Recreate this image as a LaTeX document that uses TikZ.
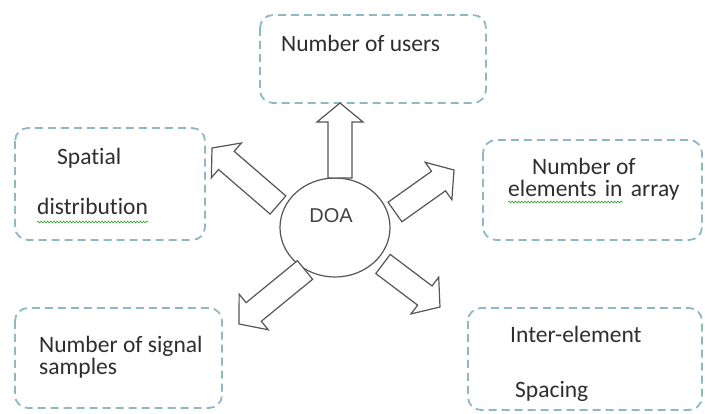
\documentclass[tikz,border=0pt]{standalone}
\usepackage{fontspec}
\setmainfont[Ligatures=NoCommon]{Carlito}
\newfontfamily\doafont{Liberation Sans}
\usetikzlibrary{calc,shapes.geometric,decorations.pathmorphing}

\definecolor{boxline}{HTML}{8DB8C4}
\definecolor{txt}{HTML}{2E2E2E}
\definecolor{arrline}{HTML}{555555}
\definecolor{spell}{HTML}{3FA63F}

\tikzset{
  factorbox/.style={draw=boxline, line width=1.8pt, dash pattern=on 8pt off 5pt,
    rounded corners=13pt},
  label/.style={anchor=base west, inner sep=0pt, text=txt,
    font=\fontsize{23.5}{26}\selectfont},
  fatarrow/.style={draw=arrline, line width=1.2pt, fill=white, line join=miter},
  spellmark/.style={draw=spell, line width=0.7pt,
    decorate, decoration={snake, amplitude=0.9pt, segment length=3.2pt}},
}

% hollow block arrow from #1 (tail centre) to #2 (tip)
\newcommand\blockarrow[2]{%
  \path ($(#2)!19pt!(#1)$) coordinate (hb);
  \draw[fatarrow] ($(#1)!12pt!90:(#2)$) -- ($(hb)!12pt!90:(#2)$)
    -- ($(hb)!23pt!90:(#2)$) -- (#2) -- ($(hb)!23pt!-90:(#2)$)
    -- ($(hb)!12pt!-90:(#2)$) -- ($(#1)!12pt!-90:(#2)$) -- cycle;
}

\begin{document}
\begin{tikzpicture}[x=1pt, y=-1pt]
  \useasboundingbox (0,0) rectangle (705,414);

  % factor boxes
  \draw[factorbox] (260,15) rectangle (486,103);
  \draw[factorbox] (15,128) rectangle (205,240);
  \draw[factorbox] (483,140) rectangle (702,240);
  \draw[factorbox] (15,308) rectangle (222,408);
  \draw[factorbox] (468,308) rectangle (702,410);

  % labels
  \node[label] (users) at (281,52) {Number of users};
  \node[label] (spat1) at (57,165) {Spatial};
  \node[label] (spat2) at (37,215) {distribution};
  \node[label] (elem1) at (532,175) {Number of};
  \node[label] (elem2) at (508,197) {elements\hspace{0.35em}in\hspace{0.35em}array};
  \node[label] (samp1) at (39,353) {Number of signal};
  \node[label] (samp2) at (39,375) {samples};
  \node[label] (inter1) at (510,343) {Inter-element};
  \node[label] (inter2) at (515,398) {Spacing};

  % proofing underlines
  \coordinate (s1a) at (37,222);  \coordinate (s1b) at (148,222);
  \coordinate (s2a) at (508,202); \coordinate (s2b) at (623,202);
  \draw[spellmark] (s1a) -- (s1b);
  \draw[spellmark] (s2a) -- (s2b);

  % centre
  \node[draw=arrline, line width=1.2pt, ellipse, minimum width=110pt,
    minimum height=99pt, inner sep=0pt] (doa) at (335,227.5) {};
  \node[inner sep=0pt, text=txt!90!white, font=\doafont\fontsize{20}{22}\selectfont]
    (doatext) at (331,216) {DOA};

  % arrow ends
  \coordinate (t1) at (340,178);  \coordinate (p1) at (340,103);
  \coordinate (t2) at (278,205);  \coordinate (p2) at (212,148);
  \coordinate (t3) at (395,212);  \coordinate (p3) at (454,170);
  \coordinate (t4) at (305,270);  \coordinate (p4) at (239,324);
  \coordinate (t5) at (383,264);  \coordinate (p5) at (440,307);

  \blockarrow{t1}{p1}
  \blockarrow{t2}{p2}
  \blockarrow{t3}{p3}
  \blockarrow{t4}{p4}
  \blockarrow{t5}{p5}
\end{tikzpicture}
\end{document}
